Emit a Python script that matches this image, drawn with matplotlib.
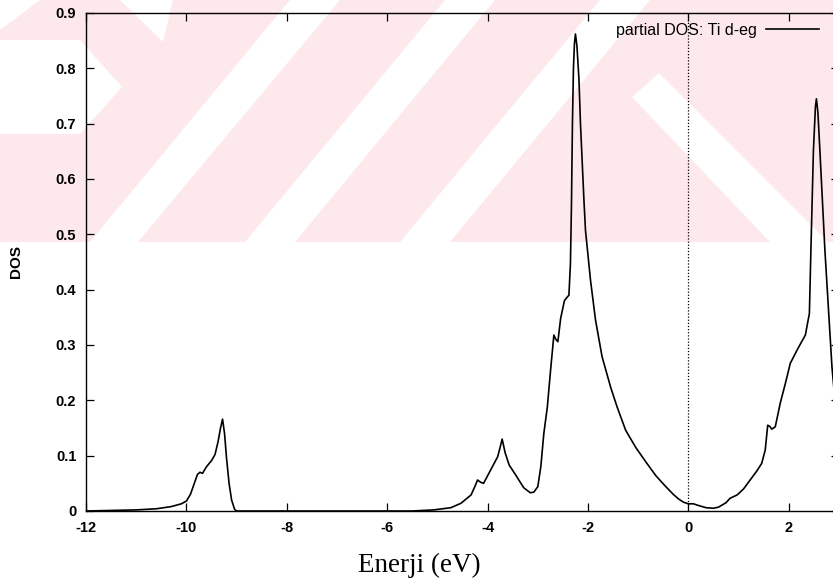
import matplotlib
matplotlib.use("Agg")
import matplotlib.pyplot as plt
from matplotlib.patches import Polygon

# Partial DOS of Ti d-eg states
energy = [-12.0, -11.5, -11.0, -10.6, -10.3, -10.1, -10.0, -9.92, -9.85, -9.78,
          -9.73, -9.68, -9.6, -9.5, -9.43, -9.37, -9.32, -9.28, -9.24, -9.2,
          -9.15, -9.1, -9.04, -9.0, -8.0, -6.0, -5.5, -5.07, -4.73, -4.53,
          -4.33, -4.25, -4.2, -4.14, -4.08, -3.94, -3.8, -3.75, -3.71, -3.65,
          -3.57, -3.44, -3.28, -3.15, -3.08, -3.0, -2.94, -2.88, -2.81, -2.75,
          -2.68, -2.64, -2.6, -2.545, -2.47, -2.42, -2.38, -2.35, -2.33, -2.31,
          -2.29, -2.27, -2.25, -2.22, -2.18, -2.15, -2.08, -2.05, -1.95, -1.85,
          -1.72, -1.55, -1.42, -1.25, -1.05, -0.85, -0.65, -0.45, -0.3, -0.2,
          -0.1, 0.0, 0.1, 0.2, 0.35, 0.5, 0.6, 0.75, 0.83, 0.97,
          1.1, 1.23, 1.36, 1.46, 1.53, 1.58, 1.62, 1.66, 1.73, 1.83,
          1.93, 2.03, 2.16, 2.25, 2.33, 2.41, 2.44, 2.49, 2.53, 2.55,
          2.58, 2.62, 2.67, 2.72, 2.78, 2.86, 2.95, 3.0]
dos = [0.0, 0.001, 0.002, 0.004, 0.008, 0.013, 0.018, 0.03, 0.048, 0.066,
       0.070, 0.068, 0.08, 0.091, 0.102, 0.125, 0.15, 0.166, 0.14, 0.095,
       0.05, 0.02, 0.003, 0.0, 0.0, 0.0, 0.0, 0.002, 0.006, 0.014,
       0.029, 0.045, 0.056, 0.052, 0.05, 0.074, 0.098, 0.115, 0.13, 0.105,
       0.083, 0.065, 0.042, 0.033, 0.034, 0.044, 0.08, 0.14, 0.188, 0.25,
       0.318, 0.31, 0.306, 0.348, 0.38, 0.386, 0.39, 0.447, 0.55, 0.70,
       0.80, 0.845, 0.862, 0.84, 0.78, 0.70, 0.56, 0.507, 0.417, 0.345,
       0.279, 0.224, 0.188, 0.146, 0.115, 0.089, 0.064, 0.044, 0.03, 0.022,
       0.016, 0.013, 0.013, 0.01, 0.006, 0.005, 0.007, 0.015, 0.023, 0.029,
       0.04, 0.056, 0.072, 0.086, 0.11, 0.155, 0.153, 0.148, 0.152, 0.195,
       0.23, 0.267, 0.29, 0.305, 0.318, 0.357, 0.47, 0.65, 0.73, 0.745,
       0.72, 0.65, 0.56, 0.47, 0.38, 0.26, 0.17, 0.14]

x_ticks = [-12, -10, -8, -6, -4, -2, 0, 2]
y_ticks = [0, 0.1, 0.2, 0.3, 0.4, 0.5, 0.6, 0.7, 0.8, 0.9]
y_tick_labels = ["0", "0.1", "0.2", "0.3", "0.4", "0.5", "0.6", "0.7", "0.8", "0.9"]
series_label = "partial DOS: Ti d-eg"
fermi_level = 0.0

W, H = 833, 586
plt.rcParams["axes.unicode_minus"] = False
fig = plt.figure(figsize=(W / 100, H / 100), dpi=100)

# background band of light diagonal stripes (pixel coordinates)
bg = fig.add_axes([0, 0, 1, 1], zorder=0)
bg.set_xlim(0, W)
bg.set_ylim(H, 0)
bg.axis("off")
pink = "#fde8ec"
band_bottom = 242
bg.add_patch(Polygon([(0, 0), (W, 0), (W, band_bottom), (0, band_bottom)],
                     closed=True, facecolor=pink, edgecolor="none"))
white_shapes = [
    [(90, band_bottom), (138, band_bottom), (340, 0), (290, 0)],
    [(245, band_bottom), (295, band_bottom), (495, 0), (445, 0)],
    [(400, band_bottom), (450, band_bottom), (650, 0), (600, 0)],
    [(632, 97), (659, 73), (828, band_bottom), (770, band_bottom)],
    [(120, 0), (173, 0), (163, 42)],
    [(0, 40), (80, 40), (122, 87), (80, 134), (0, 134)],
    [(0, 0), (40, 0), (0, 30)],
]
for pts in white_shapes:
    bg.add_patch(Polygon(pts, closed=True, facecolor="white", edgecolor="none"))

# main axes
left_px, right_px, top_px, bottom_px = 86, 839, 13, 511
ax_w, ax_h = right_px - left_px, bottom_px - top_px
ax = fig.add_axes([left_px / W, 1 - bottom_px / H, ax_w / W, ax_h / H], zorder=1)
ax.set_facecolor("none")
ax.plot(energy, dos, color="black", lw=1.2, label=series_label)
ax.axvline(fermi_level, color="black", lw=0.9, linestyle=(0, (1, 1.5)))

ax.set_xlim(-12, 3.0)
ax.set_ylim(0, 0.9)
ax.set_xticks(x_ticks)
ax.set_xticklabels([str(t) for t in x_ticks])
ax.set_yticks(y_ticks)
ax.set_yticklabels(y_tick_labels)

for lab in ax.get_xticklabels() + ax.get_yticklabels():
    lab.set_fontfamily("Liberation Sans")
    lab.set_fontweight("bold")
    lab.set_fontsize(10.5)
ax.tick_params(direction="in", length=6, width=0.9, top=True, right=True,
               colors="black", pad=7)
for s in ax.spines.values():
    s.set_linewidth(1.0)

ax.set_ylabel("DOS", fontfamily="Liberation Sans", fontweight="bold", fontsize=11)
ax.yaxis.label.set_va("center")
ax.yaxis.set_label_coords((16 - left_px) / ax_w, (bottom_px - 261) / ax_h)
ax.set_xlabel("Enerji (eV)", fontfamily="Liberation Serif", fontsize=19.5)
ax.xaxis.label.set_va("center")
ax.xaxis.set_label_coords((419 - left_px) / ax_w, -(565 - bottom_px) / ax_h)

ax.legend(loc="center right",
          bbox_to_anchor=((819 - left_px) / ax_w, (bottom_px - 30) / ax_h),
          frameon=False, markerfirst=False, borderpad=0, borderaxespad=0,
          handlelength=3.3, handletextpad=0.6,
          prop=dict(family="Liberation Sans", size=11.5))

fig.savefig("out.png", dpi=100)
